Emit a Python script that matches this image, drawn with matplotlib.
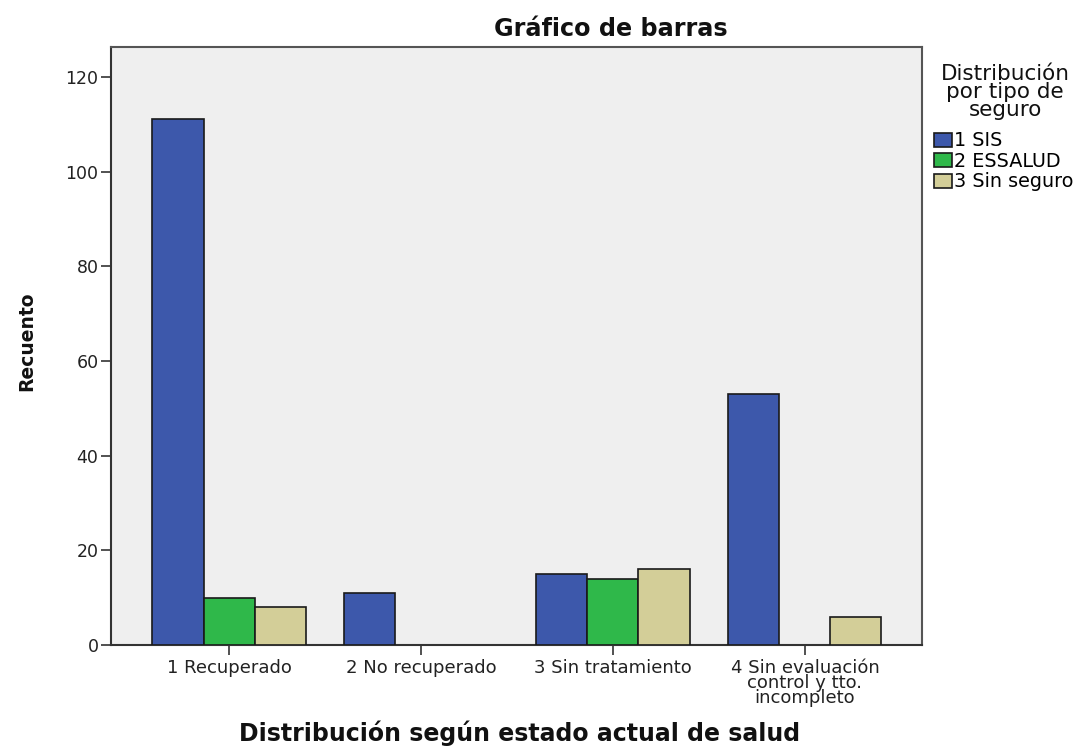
import matplotlib
matplotlib.use("Agg")
import matplotlib.pyplot as plt
import numpy as np
from matplotlib.patches import Patch

categories = ["1 Recuperado", "2 No recuperado", "3 Sin tratamiento",
              "4 Sin evaluación\ncontrol y tto.\nincompleto"]
series_names = ["1 SIS", "2 ESSALUD", "3 Sin seguro"]
sis = [111, 11, 15, 53]
essalud = [10, 0, 14, 0]
sin_seguro = [8, 0, 16, 6]
yticks = [0, 20, 40, 60, 80, 100, 120]

colors = ["#3D58AB", "#2FB84A", "#D3CE98"]
plt.rcParams['font.family'] = ['DejaVu Sans']

fig = plt.figure(figsize=(10.78, 7.47), dpi=100)
ax = fig.add_axes([111/1078, 1-645/747, (922-111)/1078, (645-47)/747])
ax.set_facecolor("#EFEFEF")

x = np.arange(len(categories))
w = 0.266
for i, (vals, c) in enumerate(zip([sis, essalud, sin_seguro], colors)):
    v = np.array(vals, dtype=float)
    mask = v > 0
    ax.bar(x[mask] + (i - 1) * w, v[mask], width=w, color=c,
           edgecolor="#1a1a1a", linewidth=1.2, zorder=3)

ax.set_xlim(-0.615, 3.61)
ax.set_ylim(0, 126.3)
ax.set_yticks(yticks)
ax.set_yticklabels([str(t) for t in yticks], fontsize=12.5, color="#222222")
ax.set_xticks(x)
ax.set_xticklabels(categories, fontsize=13, linespacing=0.8, color="#222222")
ax.tick_params(axis='both', direction='out', length=7, width=1.2, color="#333333")
ax.tick_params(axis='x', pad=3)
ax.tick_params(axis='y', pad=2)
for s in ["left", "bottom"]:
    ax.spines[s].set_linewidth(1.5)
    ax.spines[s].set_color("#333333")
for s in ["top", "right"]:
    ax.spines[s].set_linewidth(1.5)
    ax.spines[s].set_color("#555555")

fig.text(611/1078, 1-29/747, "Gráfico de barras", ha="center", va="center",
         fontsize=17.2, fontweight="bold", color="#111111")
fig.text(520/1078, 1-733/747, "Distribución según estado actual de salud",
         ha="center", va="center", fontsize=17, fontweight="bold", color="#111111")
fig.text(27/1078, 1-341/747, "Recuento", ha="center", va="center",
         rotation=90, fontsize=13.5, fontweight="bold", color="#111111")

fig.text(1005/1078, 1-92/747, "Distribución\npor tipo de\nseguro",
         ha="center", va="center", multialignment="center", linespacing=0.85,
         fontsize=15.5, color="#111111")

handles = [Patch(facecolor=c, edgecolor="#1a1a1a", linewidth=1.2) for c in colors]
leg = fig.legend(handles, series_names, loc="upper left",
                 bbox_to_anchor=(921/1078, 1-118/747), frameon=False,
                 fontsize=13.8, handlelength=0.94, handleheight=0.73,
                 handletextpad=0.1, labelspacing=0.08, borderpad=0.2)

fig.savefig("out.png", dpi=100)
